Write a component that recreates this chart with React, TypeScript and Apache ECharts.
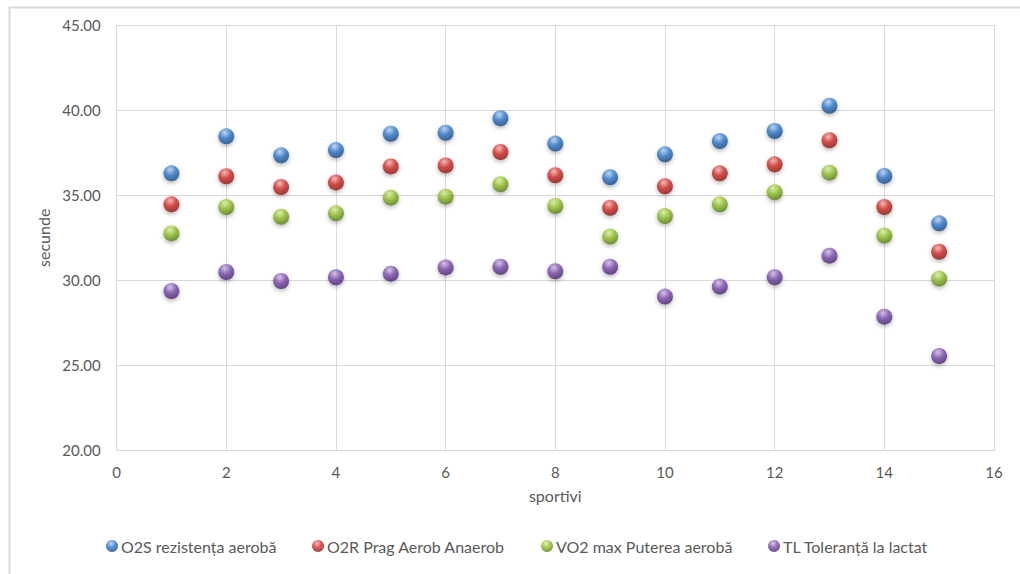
import React, { useEffect, useRef } from "react";
import * as echarts from "echarts";

const xValues = [1, 2, 3, 4, 5, 6, 7, 8, 9, 10, 11, 12, 13, 14, 15];
const o2s = [36.29, 38.47, 37.35, 37.66, 38.62, 38.68, 39.53, 38.04, 36.06, 37.41, 38.19, 38.78, 40.27, 36.14, 33.35];
const o2r = [34.47, 36.12, 35.49, 35.76, 36.7, 36.76, 37.55, 36.18, 34.27, 35.53, 36.29, 36.82, 38.24, 34.31, 31.68];
const vo2 = [32.76, 34.31, 33.74, 33.94, 34.86, 34.92, 35.65, 34.37, 32.57, 33.78, 34.47, 35.18, 36.33, 32.63, 30.1];
const tl = [29.37, 30.49, 29.96, 30.18, 30.39, 30.76, 30.8, 30.53, 30.8, 29.04, 29.63, 30.18, 31.45, 27.86, 25.55];
const seriesNames = [
  "O2S rezistența aerobă",
  "O2R Prag Aerob Anaerob",
  "VO2 max Puterea aerobă",
  "TL Toleranță la lactat",
];

const palettes = [
  ["#b6d2f5", "#3178c8", "#173f7a"],
  ["#f7b2ae", "#d22f2a", "#7e1512"],
  ["#dcf1a0", "#8fbd2c", "#4f7214"],
  ["#d2bdea", "#7b4fab", "#3f2166"],
];

const sphere = (p: string[]) => ({
  type: "radial",
  x: 0.42,
  y: 0.28,
  r: 0.78,
  colorStops: [
    { offset: 0, color: p[0] },
    { offset: 0.45, color: p[1] },
    { offset: 1, color: p[2] },
  ],
});

const FONT = "Lato, 'Noto Sans', sans-serif";
const TXT = "#595959";

export default function App() {
  const ref = useRef<HTMLDivElement>(null);
  useEffect(() => {
    if (!ref.current) return;
    const chart = echarts.init(ref.current, undefined, { renderer: "svg" });
    const all = [o2s, o2r, vo2, tl];
    const legendLefts = [106, 312, 541, 768];
    chart.setOption({
      animation: false,
      backgroundColor: "#ffffff",
      textStyle: { fontFamily: FONT },
      grid: { left: 116.6, right: 26, top: 25.3, bottom: 123.7, containLabel: false },
      xAxis: {
        type: "value",
        min: 0,
        max: 16,
        interval: 2,
        name: "sportivi",
        nameLocation: "middle",
        nameGap: 37,
        nameTextStyle: { color: TXT, fontSize: 16, fontFamily: FONT },
        axisLine: { show: true, lineStyle: { color: "#d9d9d9", width: 1 } },
        axisTick: { show: false },
        axisLabel: { color: TXT, fontSize: 15, margin: 14, fontFamily: FONT },
        splitLine: { show: true, lineStyle: { color: "#d9d9d9", width: 1 } },
      },
      yAxis: {
        type: "value",
        min: 20,
        max: 45,
        interval: 5,
        name: "secunde",
        nameLocation: "middle",
        nameGap: 64,
        nameRotate: 90,
        nameTextStyle: { color: TXT, fontSize: 16, fontFamily: FONT },
        axisLine: { show: true, lineStyle: { color: "#d9d9d9", width: 1 } },
        axisTick: { show: false },
        axisLabel: {
          color: TXT,
          fontSize: 15,
          margin: 16,
          fontFamily: FONT,
          formatter: (v: number) => v.toFixed(2),
        },
        splitLine: { show: true, lineStyle: { color: "#d9d9d9", width: 1 } },
      },
      legend: seriesNames.map((n, i) => ({
        data: [n],
        left: legendLefts[i],
        top: 538,
        icon: "circle",
        itemWidth: 12,
        itemHeight: 12,
        itemGap: 4,
        textStyle: { color: TXT, fontSize: 16, fontFamily: FONT, padding: [0, 0, 0, -2] },
        padding: 0,
      })),
      graphic: [
        {
          type: "rect",
          left: 7,
          top: 5,
          shape: { x: 0, y: 0, width: 1040, height: 600 },
          style: { fill: "none", stroke: "#d9d9d9", lineWidth: 2 },
          silent: true,
          z: -10,
        },
      ],
      series: all.map((vals, i) => ({
        type: "scatter",
        name: seriesNames[i],
        symbol: "circle",
        symbolSize: 16,
        data: xValues.map((x, j) => [x, vals[j]]),
        itemStyle: {
          color: sphere(palettes[i]),
          shadowBlur: 4,
          shadowColor: "rgba(0,0,0,0.35)",
          shadowOffsetY: 2,
        },
      })),
    });
    return () => chart.dispose();
  }, []);
  return (
    <div
      ref={ref}
      style={{ position: "fixed", left: 0, top: 0, width: 1020, height: 574, background: "#fff" }}
    />
  );
}
